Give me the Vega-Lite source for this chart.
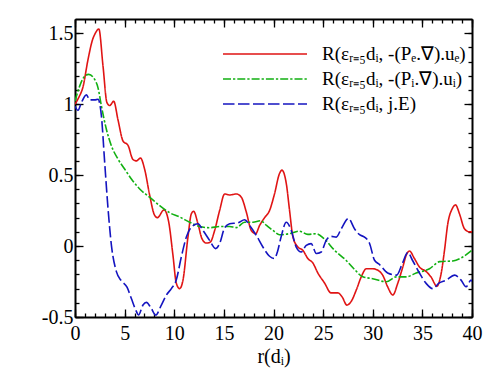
{
  "$schema": "https://vega.github.io/schema/vega-lite/v6.json",
  "width": 397,
  "height": 298,
  "autosize": {"type": "none"},
  "padding": {"left": 75, "top": 19, "right": 26, "bottom": 57},
  "background": "white",
  "datasets": {
    "curves": [
      {"series": "A", "r": 0, "v": 1.0},
      {"series": "A", "r": 0.4, "v": 1.05},
      {"series": "A", "r": 0.8, "v": 1.12},
      {"series": "A", "r": 1.3, "v": 1.31},
      {"series": "A", "r": 1.75, "v": 1.45},
      {"series": "A", "r": 2.05, "v": 1.5},
      {"series": "A", "r": 2.4, "v": 1.53},
      {"series": "A", "r": 2.82, "v": 1.27},
      {"series": "A", "r": 3.22, "v": 1.01},
      {"series": "A", "r": 3.5, "v": 0.99},
      {"series": "A", "r": 3.9, "v": 1.02},
      {"series": "A", "r": 4.33, "v": 0.89},
      {"series": "A", "r": 4.84, "v": 0.74},
      {"series": "A", "r": 5.34, "v": 0.71},
      {"series": "A", "r": 5.84, "v": 0.61},
      {"series": "A", "r": 6.18, "v": 0.6},
      {"series": "A", "r": 6.6, "v": 0.62},
      {"series": "A", "r": 7.02, "v": 0.54},
      {"series": "A", "r": 7.52, "v": 0.36},
      {"series": "A", "r": 8.0, "v": 0.22},
      {"series": "A", "r": 8.3, "v": 0.2},
      {"series": "A", "r": 8.97, "v": 0.255},
      {"series": "A", "r": 9.44, "v": 0.17},
      {"series": "A", "r": 9.87, "v": -0.065},
      {"series": "A", "r": 10.2, "v": -0.26},
      {"series": "A", "r": 10.54, "v": -0.3},
      {"series": "A", "r": 10.88, "v": -0.24},
      {"series": "A", "r": 11.38, "v": 0.063},
      {"series": "A", "r": 11.72, "v": 0.227},
      {"series": "A", "r": 11.95, "v": 0.245},
      {"series": "A", "r": 12.39, "v": 0.157},
      {"series": "A", "r": 12.79, "v": 0.052},
      {"series": "A", "r": 13.23, "v": 0.021},
      {"series": "A", "r": 13.63, "v": 0.028},
      {"series": "A", "r": 14.07, "v": 0.11},
      {"series": "A", "r": 14.57, "v": 0.25},
      {"series": "A", "r": 15.08, "v": 0.367},
      {"series": "A", "r": 15.58, "v": 0.36},
      {"series": "A", "r": 16.25, "v": 0.367},
      {"series": "A", "r": 16.76, "v": 0.344},
      {"series": "A", "r": 17.26, "v": 0.24},
      {"series": "A", "r": 17.76, "v": 0.11},
      {"series": "A", "r": 18.2, "v": 0.087},
      {"series": "A", "r": 18.6, "v": 0.145},
      {"series": "A", "r": 19.1, "v": 0.2},
      {"series": "A", "r": 19.6, "v": 0.25},
      {"series": "A", "r": 20.1, "v": 0.367},
      {"series": "A", "r": 20.6, "v": 0.51},
      {"series": "A", "r": 20.85, "v": 0.535},
      {"series": "A", "r": 21.29, "v": 0.44},
      {"series": "A", "r": 21.62, "v": 0.25},
      {"series": "A", "r": 21.96, "v": 0.063},
      {"series": "A", "r": 22.46, "v": -0.007},
      {"series": "A", "r": 22.96, "v": -0.03},
      {"series": "A", "r": 23.46, "v": -0.088},
      {"series": "A", "r": 23.97, "v": -0.12},
      {"series": "A", "r": 24.47, "v": -0.19},
      {"series": "A", "r": 25.14, "v": -0.26},
      {"series": "A", "r": 25.8, "v": -0.33},
      {"series": "A", "r": 26.49, "v": -0.33},
      {"series": "A", "r": 26.93, "v": -0.36},
      {"series": "A", "r": 27.39, "v": -0.416},
      {"series": "A", "r": 27.83, "v": -0.39},
      {"series": "A", "r": 28.34, "v": -0.31},
      {"series": "A", "r": 28.84, "v": -0.217},
      {"series": "A", "r": 29.35, "v": -0.16},
      {"series": "A", "r": 30.0, "v": -0.16},
      {"series": "A", "r": 30.5, "v": -0.17},
      {"series": "A", "r": 31.0, "v": -0.205},
      {"series": "A", "r": 31.52, "v": -0.29},
      {"series": "A", "r": 32.02, "v": -0.345},
      {"series": "A", "r": 32.53, "v": -0.26},
      {"series": "A", "r": 33.03, "v": -0.147},
      {"series": "A", "r": 33.37, "v": -0.065},
      {"series": "A", "r": 33.7, "v": -0.035},
      {"series": "A", "r": 34.2, "v": -0.088},
      {"series": "A", "r": 34.7, "v": -0.147},
      {"series": "A", "r": 35.39, "v": -0.18},
      {"series": "A", "r": 35.89, "v": -0.22},
      {"series": "A", "r": 36.46, "v": -0.283},
      {"series": "A", "r": 36.9, "v": -0.19},
      {"series": "A", "r": 37.23, "v": -0.03},
      {"series": "A", "r": 37.56, "v": 0.157},
      {"series": "A", "r": 38.0, "v": 0.262},
      {"series": "A", "r": 38.34, "v": 0.29},
      {"series": "A", "r": 38.74, "v": 0.227},
      {"series": "A", "r": 39.24, "v": 0.122},
      {"series": "A", "r": 39.75, "v": 0.1},
      {"series": "A", "r": 40, "v": 0.1},

      {"series": "B", "r": 0, "v": 1.02},
      {"series": "B", "r": 0.47, "v": 1.127},
      {"series": "B", "r": 0.98, "v": 1.197},
      {"series": "B", "r": 1.38, "v": 1.21},
      {"series": "B", "r": 1.98, "v": 1.174},
      {"series": "B", "r": 2.32, "v": 1.115},
      {"series": "B", "r": 2.66, "v": 0.987},
      {"series": "B", "r": 3.16, "v": 0.823},
      {"series": "B", "r": 3.67, "v": 0.706},
      {"series": "B", "r": 4.33, "v": 0.613},
      {"series": "B", "r": 5.0, "v": 0.543},
      {"series": "B", "r": 5.68, "v": 0.473},
      {"series": "B", "r": 6.52, "v": 0.402},
      {"series": "B", "r": 7.52, "v": 0.344},
      {"series": "B", "r": 8.53, "v": 0.285},
      {"series": "B", "r": 9.53, "v": 0.235},
      {"series": "B", "r": 10.54, "v": 0.205},
      {"series": "B", "r": 11.55, "v": 0.168},
      {"series": "B", "r": 12.56, "v": 0.138},
      {"series": "B", "r": 13.57, "v": 0.129},
      {"series": "B", "r": 14.57, "v": 0.138},
      {"series": "B", "r": 15.58, "v": 0.138},
      {"series": "B", "r": 16.25, "v": 0.13},
      {"series": "B", "r": 17.09, "v": 0.168},
      {"series": "B", "r": 17.93, "v": 0.168},
      {"series": "B", "r": 18.7, "v": 0.178},
      {"series": "B", "r": 19.3, "v": 0.145},
      {"series": "B", "r": 19.94, "v": 0.11},
      {"series": "B", "r": 20.6, "v": 0.08},
      {"series": "B", "r": 21.6, "v": 0.087},
      {"series": "B", "r": 22.6, "v": 0.105},
      {"series": "B", "r": 23.46, "v": 0.082},
      {"series": "B", "r": 24.3, "v": 0.087},
      {"series": "B", "r": 25.1, "v": 0.052},
      {"series": "B", "r": 26.15, "v": -0.03},
      {"series": "B", "r": 27.3, "v": -0.1},
      {"series": "B", "r": 28.1, "v": -0.16},
      {"series": "B", "r": 29.0, "v": -0.217},
      {"series": "B", "r": 30.0, "v": -0.23},
      {"series": "B", "r": 31.36, "v": -0.252},
      {"series": "B", "r": 32.37, "v": -0.217},
      {"series": "B", "r": 33.37, "v": -0.217},
      {"series": "B", "r": 34.38, "v": -0.19},
      {"series": "B", "r": 35.72, "v": -0.16},
      {"series": "B", "r": 36.73, "v": -0.11},
      {"series": "B", "r": 38.07, "v": -0.105},
      {"series": "B", "r": 39.07, "v": -0.077},
      {"series": "B", "r": 40, "v": -0.03},

      {"series": "C", "r": 0, "v": 0.985},
      {"series": "C", "r": 0.3, "v": 0.956},
      {"series": "C", "r": 0.64, "v": 1.01},
      {"series": "C", "r": 1.15, "v": 1.065},
      {"series": "C", "r": 1.48, "v": 1.03},
      {"series": "C", "r": 1.98, "v": 1.03},
      {"series": "C", "r": 2.32, "v": 1.034},
      {"series": "C", "r": 2.66, "v": 0.917},
      {"series": "C", "r": 2.99, "v": 0.59},
      {"series": "C", "r": 3.33, "v": 0.262},
      {"series": "C", "r": 3.67, "v": 0.005},
      {"series": "C", "r": 4.17, "v": -0.18},
      {"series": "C", "r": 4.67, "v": -0.245},
      {"series": "C", "r": 5.24, "v": -0.29},
      {"series": "C", "r": 5.68, "v": -0.37},
      {"series": "C", "r": 6.18, "v": -0.46},
      {"series": "C", "r": 6.4, "v": -0.486},
      {"series": "C", "r": 6.85, "v": -0.416},
      {"series": "C", "r": 7.19, "v": -0.397},
      {"series": "C", "r": 7.69, "v": -0.44},
      {"series": "C", "r": 8.13, "v": -0.486},
      {"series": "C", "r": 8.7, "v": -0.416},
      {"series": "C", "r": 9.2, "v": -0.346},
      {"series": "C", "r": 9.71, "v": -0.3},
      {"series": "C", "r": 10.2, "v": -0.24},
      {"series": "C", "r": 10.71, "v": -0.077},
      {"series": "C", "r": 11.22, "v": 0.063},
      {"series": "C", "r": 11.72, "v": 0.133},
      {"series": "C", "r": 12.39, "v": 0.157},
      {"series": "C", "r": 12.89, "v": 0.11},
      {"series": "C", "r": 13.56, "v": 0.04},
      {"series": "C", "r": 14.17, "v": -0.018},
      {"series": "C", "r": 14.57, "v": 0.017},
      {"series": "C", "r": 15.08, "v": 0.129},
      {"series": "C", "r": 15.58, "v": 0.157},
      {"series": "C", "r": 16.42, "v": 0.164},
      {"series": "C", "r": 17.09, "v": 0.185},
      {"series": "C", "r": 17.6, "v": 0.145},
      {"series": "C", "r": 18.27, "v": 0.075},
      {"series": "C", "r": 18.93, "v": -0.007},
      {"series": "C", "r": 19.6, "v": -0.072},
      {"series": "C", "r": 20.1, "v": -0.088},
      {"series": "C", "r": 20.4, "v": -0.04},
      {"series": "C", "r": 20.75, "v": 0.06},
      {"series": "C", "r": 21.29, "v": 0.168},
      {"series": "C", "r": 21.79, "v": 0.11},
      {"series": "C", "r": 22.29, "v": -0.007},
      {"series": "C", "r": 22.8, "v": -0.042},
      {"series": "C", "r": 23.3, "v": 0.005},
      {"series": "C", "r": 23.8, "v": 0.017},
      {"series": "C", "r": 24.31, "v": -0.053},
      {"series": "C", "r": 24.81, "v": -0.042},
      {"series": "C", "r": 25.31, "v": 0.04},
      {"series": "C", "r": 25.82, "v": 0.068},
      {"series": "C", "r": 26.32, "v": 0.063},
      {"series": "C", "r": 26.83, "v": 0.122},
      {"series": "C", "r": 27.55, "v": 0.194},
      {"series": "C", "r": 28.16, "v": 0.122},
      {"series": "C", "r": 28.67, "v": 0.08},
      {"series": "C", "r": 29.17, "v": 0.063},
      {"series": "C", "r": 29.67, "v": 0.02},
      {"series": "C", "r": 30.18, "v": -0.1},
      {"series": "C", "r": 30.68, "v": -0.13},
      {"series": "C", "r": 31.5, "v": -0.19},
      {"series": "C", "r": 32.4, "v": -0.205},
      {"series": "C", "r": 33.0, "v": -0.12},
      {"series": "C", "r": 33.53, "v": -0.045},
      {"series": "C", "r": 34.0, "v": -0.1},
      {"series": "C", "r": 34.7, "v": -0.19},
      {"series": "C", "r": 35.4, "v": -0.265},
      {"series": "C", "r": 36.05, "v": -0.3},
      {"series": "C", "r": 36.7, "v": -0.26},
      {"series": "C", "r": 37.4, "v": -0.24},
      {"series": "C", "r": 38.24, "v": -0.205},
      {"series": "C", "r": 38.9, "v": -0.24},
      {"series": "C", "r": 39.4, "v": -0.287},
      {"series": "C", "r": 39.9, "v": -0.24},
      {"series": "C", "r": 40, "v": -0.25}
    ],
    "names": [
      {"series": "A", "name": "R(εᵣ₌₅dᵢ, -(Pₑ.∇).uₑ)"},
      {"series": "B", "name": "R(εᵣ₌₅dᵢ, -(Pᵢ.∇).uᵢ)"},
      {"series": "C", "name": "R(εᵣ₌₅dᵢ, j.E)"}
    ]
  },
  "data": {"name": "curves"},
  "transform": [
    {"lookup": "series", "from": {"data": {"name": "names"}, "key": "series", "fields": ["name"]}}
  ],
  "layer": [
    {
      "mark": {"type": "line", "interpolate": "monotone", "strokeWidth": 1.6, "clip": true},
      "encoding": {
        "x": {
          "field": "r", "type": "quantitative",
          "scale": {"domain": [0, 40], "nice": false},
          "axis": {
            "orient": "bottom",
            "values": [0, 5, 10, 15, 20, 25, 30, 35, 40],
            "ticks": false,
            "domain": false,
            "labelFlush": false,
            "title": "r(dᵢ)",
            "labelPadding": 6,
            "titlePadding": 3
          }
        },
        "y": {
          "field": "v", "type": "quantitative",
          "scale": {"domain": [-0.5, 1.6], "nice": false, "zero": false},
          "axis": {
            "orient": "left",
            "values": [-0.5, 0, 0.5, 1, 1.5],
            "ticks": false,
            "domain": false,
            "labelFlush": false,
            "labelExpr": "'' + datum.value",
            "title": null,
            "labelPadding": 2
          }
        },
        "color": {
          "field": "name", "type": "nominal",
          "scale": {
            "domain": ["R(εᵣ₌₅dᵢ, -(Pₑ.∇).uₑ)", "R(εᵣ₌₅dᵢ, -(Pᵢ.∇).uᵢ)", "R(εᵣ₌₅dᵢ, j.E)"],
            "range": ["#e01414", "#12b012", "#1414c0"]
          },
          "legend": {"title": null}
        },
        "strokeDash": {
          "field": "name", "type": "nominal",
          "scale": {
            "domain": ["R(εᵣ₌₅dᵢ, -(Pₑ.∇).uₑ)", "R(εᵣ₌₅dᵢ, -(Pᵢ.∇).uᵢ)", "R(εᵣ₌₅dᵢ, j.E)"],
            "range": [[1, 0], [8, 2, 2.3, 2], [11.5, 3.5]]
          },
          "legend": {"title": null}
        }
      }
    },
    {
      "mark": {"type": "point", "opacity": 0},
      "encoding": {
        "x": {
          "field": "r", "type": "quantitative",
          "axis": {
            "orient": "top", "offset": -298,
            "values": [0,1,2,3,4,5,6,7,8,9,10,11,12,13,14,15,16,17,18,19,20,21,22,23,24,25,26,27,28,29,30,31,32,33,34,35,36,37,38,39,40],
            "labels": false, "tickSize": 4, "domain": true, "title": null
          }
        },
        "y": {
          "field": "v", "type": "quantitative",
          "axis": {
            "orient": "right", "offset": -397,
            "values": [-0.5,-0.4,-0.3,-0.2,-0.1,0,0.1,0.2,0.3,0.4,0.5,0.6,0.7,0.8,0.9,1,1.1,1.2,1.3,1.4,1.5],
            "labels": false, "tickSize": 4, "domain": true, "title": null
          }
        }
      }
    },
    {
      "mark": {"type": "point", "opacity": 0},
      "encoding": {
        "x": {
          "field": "r", "type": "quantitative",
          "axis": {
            "orient": "bottom", "offset": -298,
            "values": [0,1,2,3,4,5,6,7,8,9,10,11,12,13,14,15,16,17,18,19,20,21,22,23,24,25,26,27,28,29,30,31,32,33,34,35,36,37,38,39,40],
            "labels": false, "tickSize": 4, "domain": true, "title": null
          }
        },
        "y": {
          "field": "v", "type": "quantitative",
          "axis": {
            "orient": "left", "offset": -397,
            "values": [-0.5,-0.4,-0.3,-0.2,-0.1,0,0.1,0.2,0.3,0.4,0.5,0.6,0.7,0.8,0.9,1,1.1,1.2,1.3,1.4,1.5],
            "labels": false, "tickSize": 4, "domain": true, "title": null
          }
        }
      }
    },
    {
      "mark": {"type": "point", "opacity": 0},
      "encoding": {
        "x": {
          "field": "r", "type": "quantitative",
          "axis": {
            "orient": "top", "offset": -298,
            "values": [0, 5, 10, 15, 20, 25, 30, 35, 40],
            "labels": false, "tickSize": 8, "domain": false, "title": null
          }
        },
        "y": {
          "field": "v", "type": "quantitative",
          "axis": {
            "orient": "right", "offset": -397,
            "values": [-0.5, 0, 0.5, 1, 1.5],
            "labels": false, "tickSize": 8, "domain": false, "title": null
          }
        }
      }
    },
    {
      "mark": {"type": "point", "opacity": 0},
      "encoding": {
        "x": {
          "field": "r", "type": "quantitative",
          "axis": {
            "orient": "bottom", "offset": -298,
            "values": [0, 5, 10, 15, 20, 25, 30, 35, 40],
            "labels": false, "tickSize": 8, "domain": false, "title": null
          }
        },
        "y": {
          "field": "v", "type": "quantitative",
          "axis": {
            "orient": "left", "offset": -397,
            "values": [-0.5, 0, 0.5, 1, 1.5],
            "labels": false, "tickSize": 8, "domain": false, "title": null
          }
        }
      }
    }
  ],
  "resolve": {"axis": {"x": "independent", "y": "independent"}},
  "config": {
    "view": {"stroke": null},
    "font": "Liberation Serif",
    "axis": {
      "grid": false,
      "domainColor": "black",
      "domainWidth": 2,
      "tickColor": "black",
      "tickWidth": 1.3,
      "labelFont": "Liberation Serif",
      "labelFontSize": 20,
      "labelColor": "black",
      "titleFont": "Liberation Serif",
      "titleFontSize": 20,
      "titleFontWeight": "normal",
      "titleColor": "black"
    },
    "legend": {
      "orient": "none",
      "legendX": 175,
      "legendY": 20,
      "padding": 0,
      "symbolType": "M-3,0L3,0",
      "symbolSize": 784,
      "symbolStrokeWidth": 1.6,
      "labelFont": "Liberation Serif",
      "labelFontSize": 19,
      "labelColor": "black",
      "labelLimit": 0,
      "labelOffset": 42,
      "rowPadding": 0
    }
  }
}
